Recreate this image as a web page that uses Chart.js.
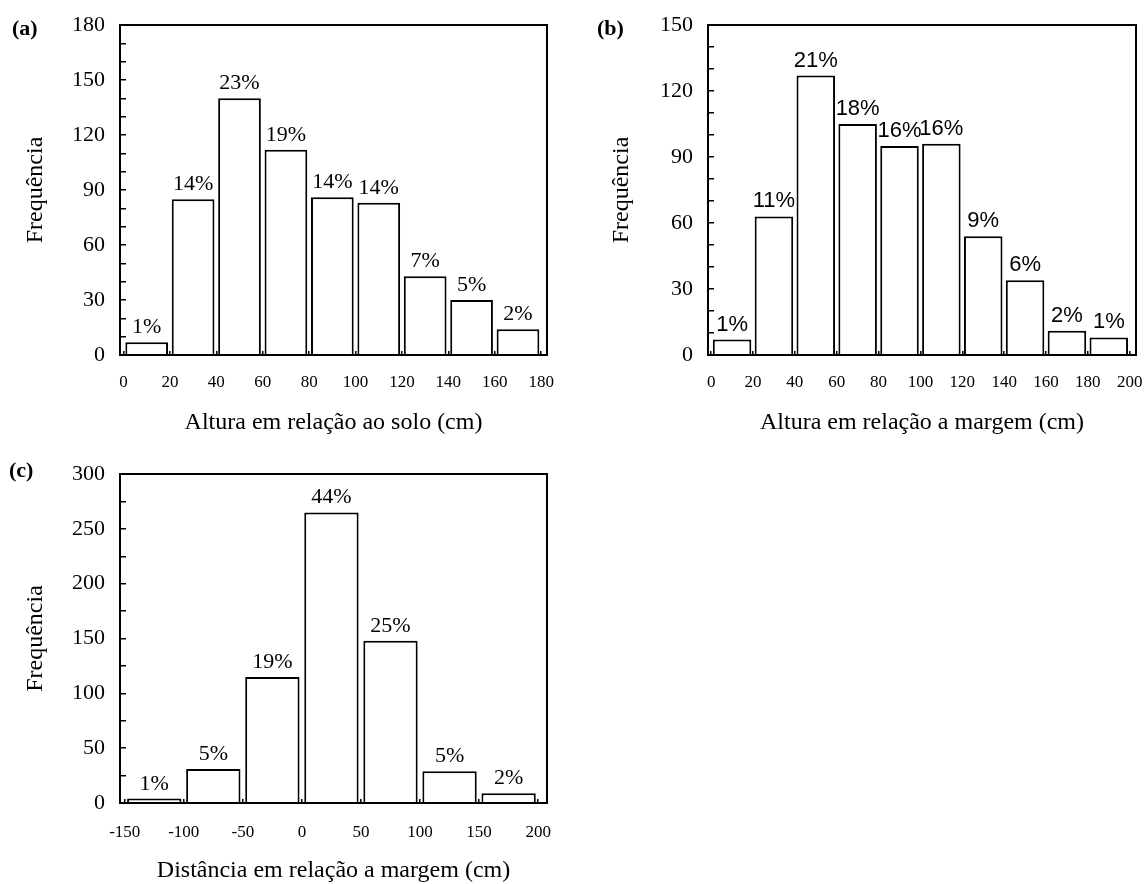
<!DOCTYPE html>
<html>
<head>
<meta charset="utf-8">
<script src="https://cdn.jsdelivr.net/npm/chart.js@4.4.1/dist/chart.umd.min.js"></script>
<style>
  html, body { margin: 0; padding: 0; background: #fff; overflow: hidden; }
  #wrap { position: relative; width: 1146px; height: 884px; }
  canvas { position: absolute; }
  .tag { position: absolute; font: bold 22px "Liberation Serif", "Times New Roman", serif; line-height: 1; color: #000; }
</style>
</head>
<body>
<div id="wrap">
  <canvas id="chart-a" width="570" height="440" style="left:0;top:0"></canvas>
  <canvas id="chart-b" width="576" height="440" style="left:570px;top:0"></canvas>
  <canvas id="chart-c" width="570" height="444" style="left:0;top:440px"></canvas>
  <div class="tag" style="left:12px;top:17px">(a)</div>
  <div class="tag" style="left:597px;top:17px">(b)</div>
  <div class="tag" style="left:9px;top:459px">(c)</div>
</div>
<script>
const SERIF = '"Liberation Serif", "Times New Roman", serif';
const SANS = '"Liberation Sans", Arial, sans-serif';

// ── (a) Altura em relação ao solo ─────────────────
const binsA = [10, 30, 50, 70, 90, 110, 130, 150, 170];
const countsA = [7, 85, 140, 112, 86, 83, 43, 30, 14];
const pctA = ['1%', '14%', '23%', '19%', '14%', '14%', '7%', '5%', '2%'];
const xTicksA = [0, 20, 40, 60, 80, 100, 120, 140, 160, 180];
const yTicksA = [0, 30, 60, 90, 120, 150, 180];

// ── (b) Altura em relação a margem ────────────────
const binsB = [10, 30, 50, 70, 90, 110, 130, 150, 170, 190];
const countsB = [7, 63, 127, 105, 95, 96, 54, 34, 11, 8];
const pctB = ['1%', '11%', '21%', '18%', '16%', '16%', '9%', '6%', '2%', '1%'];
const xTicksB = [0, 20, 40, 60, 80, 100, 120, 140, 160, 180, 200];
const yTicksB = [0, 30, 60, 90, 120, 150];

// ── (c) Distância em relação a margem ─────────────
const binsC = [-125, -75, -25, 25, 75, 125, 175];
const countsC = [4, 31, 115, 265, 148, 29, 9];
const pctC = ['1%', '5%', '19%', '44%', '25%', '5%', '2%'];
const xTicksC = [-150, -100, -50, 0, 50, 100, 150, 200];
const yTicksC = [0, 50, 100, 150, 200, 250, 300];

// moldura + rótulos de percentagem em cima das barras
function framePlugin(labels, font) {
    return {
        id: 'frame',
        afterDatasetsDraw(chart) {
            const { ctx, chartArea: a } = chart;
            ctx.save();
            ctx.font = font;
            ctx.fillStyle = '#000';
            ctx.textAlign = 'center';
            ctx.textBaseline = 'alphabetic';
            chart.getDatasetMeta(0).data.forEach((bar, i) => {
                ctx.fillText(labels[i], bar.x, bar.y - 9);
            });
            ctx.lineWidth = 2;
            ctx.strokeStyle = '#000';
            ctx.strokeRect(a.left, a.top, a.right - a.left, a.bottom - a.top);
            ctx.restore();
        }
    };
}

function makeHist(id, p) {
    const ctx = document.getElementById(id).getContext('2d');
    return new Chart(ctx, {
        type: 'bar',
        data: {
            datasets: [{
                data: p.bins.map((b, i) => ({ x: b, y: p.counts[i] })),
                backgroundColor: '#fff',
                borderColor: '#000',
                borderWidth: 2,
                categoryPercentage: 1,
                barPercentage: 0.92
            }]
        },
        options: {
            responsive: false,
            animation: false,
            layout: { padding: { top: p.padTop, right: p.padRight, left: 0, bottom: 0 } },
            plugins: { legend: { display: false }, tooltip: { enabled: false } },
            scales: {
                x: {
                    type: 'linear',
                    min: p.xMin,
                    max: p.xMax,
                    offset: false,
                    grid: { offset: false, drawOnChartArea: false, tickLength: -4, color: '#000', lineWidth: 1.5 },
                    border: { display: false },
                    ticks: { font: { family: SERIF, size: 17 }, color: '#000', padding: p.xTickPad, maxRotation: 0, autoSkip: false },
                    afterBuildTicks: (s) => { s.ticks = p.xTicks.map(v => ({ value: v })); },
                    afterFit: (s) => {
                        s.height = p.xHeight;
                        // sem folga extra dos rótulos nas pontas
                        s.paddingLeft = 0;
                        s.paddingRight = 0;
                    },
                    title: {
                        display: true,
                        text: p.xTitle,
                        color: '#000',
                        font: { family: SERIF, size: 24, lineHeight: 1 },
                        padding: { top: 0, bottom: p.xTitlePad }
                    }
                },
                y: {
                    min: 0,
                    max: p.yMax,
                    grid: { drawOnChartArea: false, tickLength: -6, color: '#000', lineWidth: 1.5 },
                    border: { display: false },
                    ticks: {
                        stepSize: p.yStep,
                        autoSkip: false,
                        color: '#000',
                        padding: 21,
                        font: { family: SERIF, size: 22 },
                        callback: (v) => p.yTicks.includes(v) ? String(v) : ''
                    },
                    afterFit: (s) => {
                        s.width = p.yWidth;
                        s.paddingTop = 0;
                        s.paddingBottom = 0;
                    },
                    title: {
                        display: true,
                        text: 'Frequência',
                        color: '#000',
                        font: { family: SERIF, size: 24, lineHeight: 1 },
                        padding: { top: p.yTitlePad, bottom: 0 }
                    }
                }
            }
        },
        plugins: [framePlugin(p.pct, p.pctFont)]
    });
}

makeHist('chart-a', {
    bins: binsA, counts: countsA, pct: pctA, xTicks: xTicksA, yTicks: yTicksA,
    xMin: -1.5, xMax: 182.5, yMax: 180, yStep: 10,
    xTitle: 'Altura em relação ao solo (cm)', pctFont: '22px ' + SERIF,
    padTop: 25, padRight: 23, yWidth: 120, xHeight: 85,
    xTickPad: 21, xTitlePad: 5, yTitlePad: 24
});

makeHist('chart-b', {
    bins: binsB, counts: countsB, pct: pctB, xTicks: xTicksB, yTicks: yTicksB,
    xMin: -1.5, xMax: 203, yMax: 150, yStep: 10,
    xTitle: 'Altura em relação a margem (cm)', pctFont: '22px ' + SANS,
    padTop: 25, padRight: 10, yWidth: 138, xHeight: 85,
    xTickPad: 21, xTitlePad: 5, yTitlePad: 40
});

makeHist('chart-c', {
    bins: binsC, counts: countsC, pct: pctC, xTicks: xTicksC, yTicks: yTicksC,
    xMin: -154, xMax: 207.5, yMax: 300, yStep: 25,
    xTitle: 'Distância em relação a margem (cm)', pctFont: '22px ' + SERIF,
    padTop: 34, padRight: 23, yWidth: 120, xHeight: 81,
    xTickPad: 23, xTitlePad: 1, yTitlePad: 24
});
</script>
</body>
</html>
